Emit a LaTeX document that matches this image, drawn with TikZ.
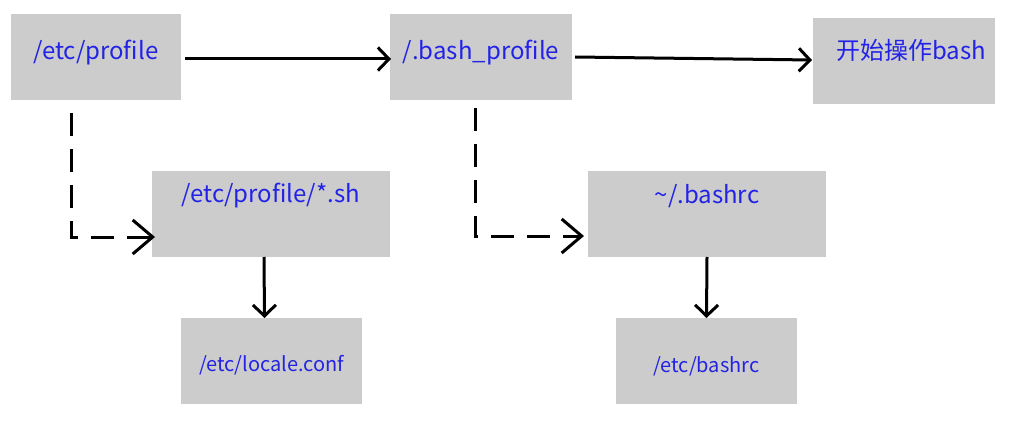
\documentclass[tikz,border=0pt]{standalone}
\usepackage{fontspec}
\setmainfont{Noto Sans CJK SC}
\usetikzlibrary{arrows.meta}
\definecolor{boxgray}{RGB}{204,204,204}
\definecolor{txtblue}{RGB}{35,35,230}
\begin{document}
\begin{tikzpicture}[x=1pt,y=-1pt,
  gbox/.style={fill=boxgray, text=txtblue, inner sep=0pt, outer sep=0pt, minimum height=86pt, font=\fontsize{24}{28}\selectfont},
  smalltext/.style={font=\fontsize{20}{24}\selectfont},
  conn/.style={line width=3pt, -{Straight Barb[length=11pt,width=23pt,line width=3pt]}},
  dconn/.style={line width=3pt, dash pattern=on 23pt off 13pt, -{Straight Barb[length=20pt,width=34pt,line width=3pt]}}
]
\useasboundingbox (0,0) rectangle (1014,422);
\node[gbox, minimum width=170pt, text height=18pt, text depth=12pt] (A) at (96,57) {/etc/profile};
\node[gbox, minimum width=182pt, text height=18pt, text depth=12pt] (B) at (481,57) {/.bash\_profile};
\node[gbox, minimum width=182pt, text height=18pt, text depth=20pt] (C) at (904,61) {\hspace{14pt}开始操作bash};
\node[gbox, minimum width=238pt, text height=18pt, text depth=42pt] (D) at (271,214) {/etc/profile/*.sh};
\node[gbox, smalltext, minimum width=181pt, text height=20pt, text depth=0pt] (E) at (271.5,361) {/etc/locale.conf};
\node[gbox, minimum width=238pt, text height=18pt, text depth=38pt] (F) at (707,214) {\textasciitilde/.bashrc};
\node[gbox, smalltext, minimum width=181pt, text height=22pt, text depth=0pt] (G) at (706.5,361) {/etc/bashrc};

\draw[conn] ([xshift=4pt,yshift=-2pt]A.east) -- ([xshift=1pt,yshift=-2pt]B.west);
\draw[conn] ([xshift=3pt]B.east) -- ([xshift=-1pt,yshift=1pt]C.west);
\draw[conn] ([xshift=-7pt]D.south) -- ([xshift=-7pt]E.north);
\draw[conn] (F.south) -- (G.north);
\draw[dconn] ([xshift=-25pt,yshift=-13pt]A.south) |- ([xshift=3pt,yshift=-23pt]D.west);
\draw[dconn] ([xshift=-6pt,yshift=-8pt]B.south) |- ([xshift=-4pt,yshift=-22pt]F.west);
\end{tikzpicture}
\end{document}
